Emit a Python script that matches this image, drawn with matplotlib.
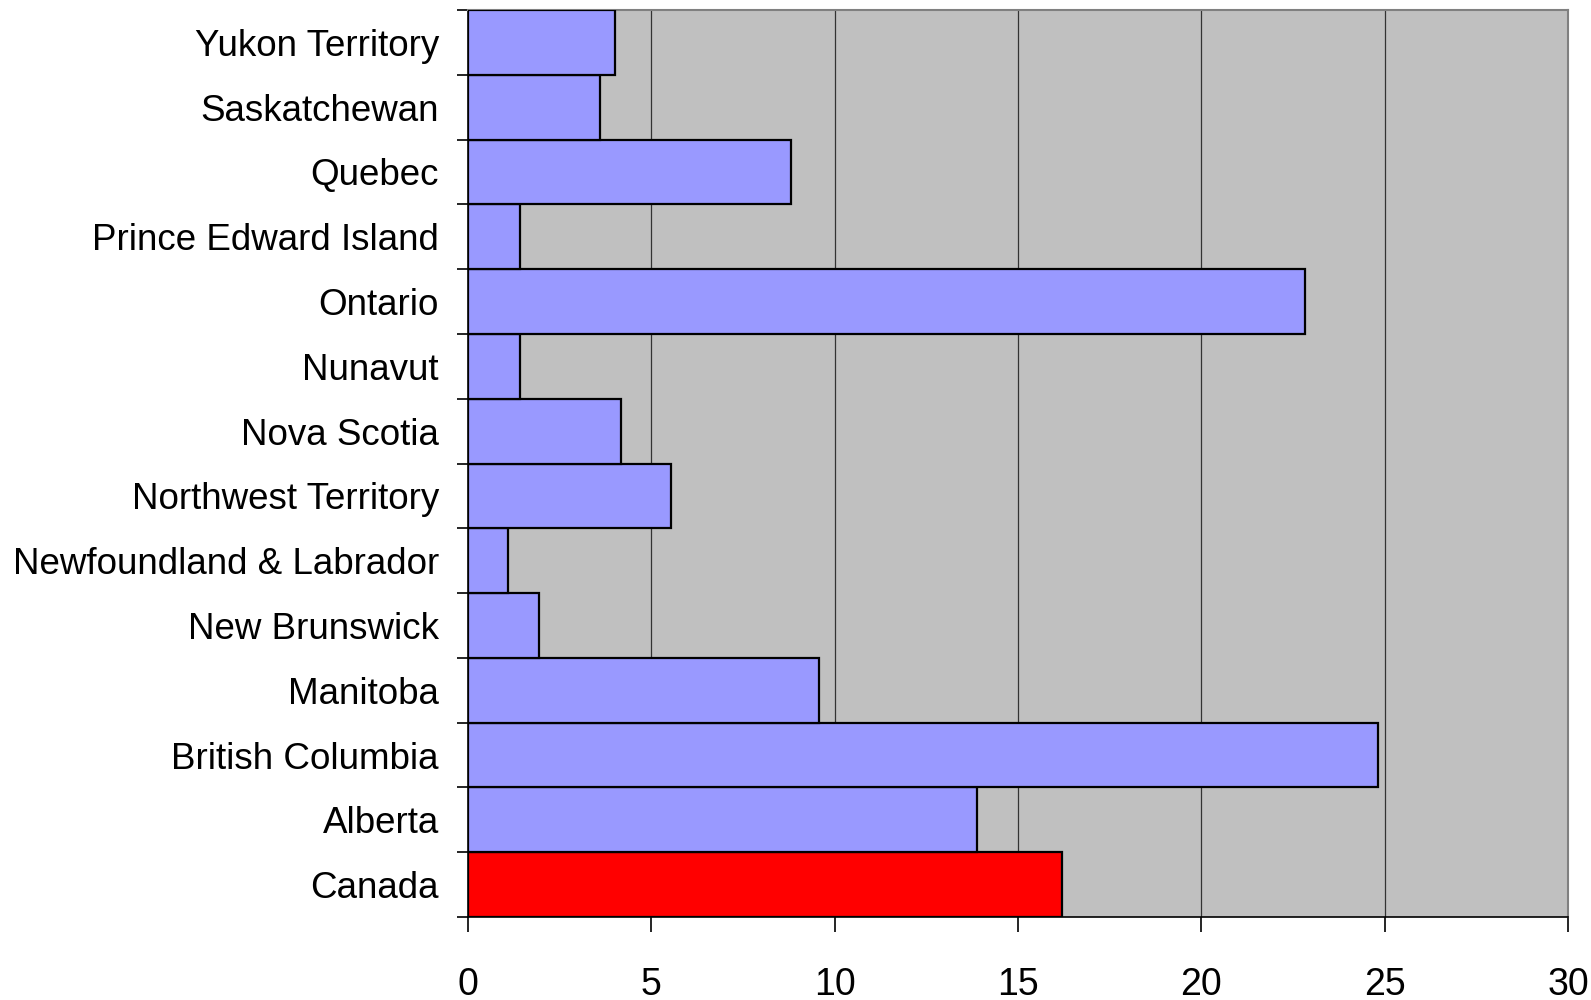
import matplotlib
matplotlib.use("Agg")
import matplotlib.pyplot as plt
import numpy as np

categories = ["Canada", "Alberta", "British Columbia", "Manitoba", "New Brunswick",
              "Newfoundland & Labrador", "Northwest Territory", "Nova Scotia", "Nunavut",
              "Ontario", "Prince Edward Island", "Quebec", "Saskatchewan", "Yukon Territory"]
values = [16.2, 13.87, 24.82, 9.58, 1.94, 1.08, 5.53, 4.18, 1.42, 22.83, 1.42, 8.8, 3.6, 4.0]
colors = ["#FF0000"] + ["#9999FF"] * 13
xticks = [0, 5, 10, 15, 20, 25, 30]

plt.rcParams['font.family'] = ['Liberation Sans', 'DejaVu Sans']

fig = plt.figure(figsize=(15.91, 10), dpi=100)
ax = fig.add_axes([468/1591, 1 - 917/1000, 1100/1591, 907/1000])
ax.set_facecolor("#C0C0C0")

y = np.arange(len(categories))
ax.barh(y, values, height=1.0, color=colors, edgecolor="black", linewidth=1.6, zorder=3)

ax.set_xlim(0, 30)
ax.set_ylim(-0.5, len(categories) - 0.5)
ax.set_xticks(xticks)
ax.set_xticklabels([str(t) for t in xticks], fontsize=27)
ax.xaxis.grid(True, color="#333333", linewidth=0.9, zorder=1)
ax.set_axisbelow(True)

ax.set_yticks(y)
ax.set_yticklabels(categories, fontsize=26.5)
ax.tick_params(axis='y', which='major', length=0, pad=21)
ax.set_yticks(np.arange(-0.5, len(categories), 1.0), minor=True)
ax.tick_params(axis='y', which='minor', length=8, width=1.2, color="black")
ax.tick_params(axis='x', which='major', length=11, width=1.2, pad=25, color="black")

for side in ["top", "right"]:
    ax.spines[side].set_color("#808080")
    ax.spines[side].set_linewidth(1.5)
for side in ["left", "bottom"]:
    ax.spines[side].set_color("black")
    ax.spines[side].set_linewidth(1.2)

fig.savefig("out.png", dpi=100)
